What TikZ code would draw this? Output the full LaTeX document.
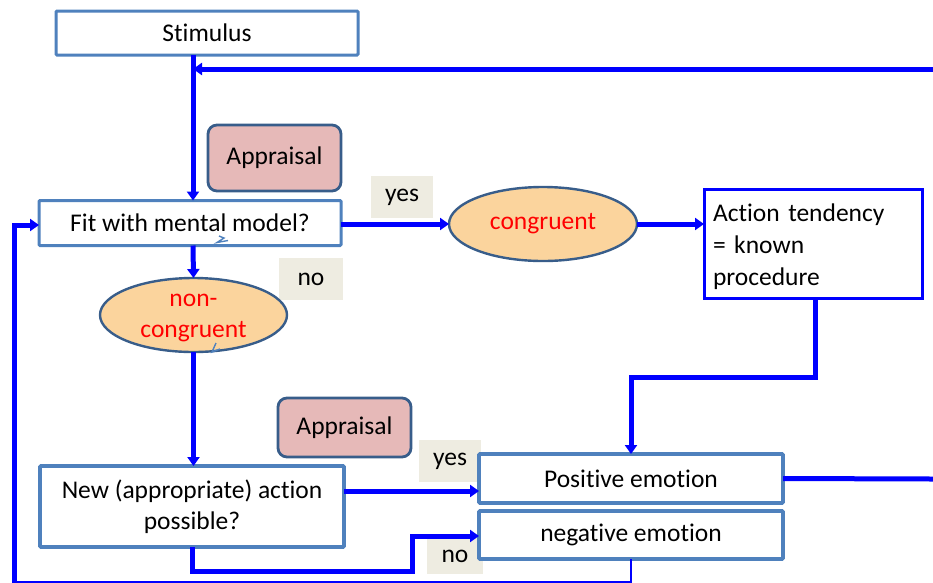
\documentclass[tikz,border=0pt]{standalone}
\usepackage{fontspec}
\setmainfont[Ligatures={NoCommon}]{Carlito}
\usetikzlibrary{arrows.meta,shapes.geometric}
\definecolor{sblue}{HTML}{4F81BD}
\definecolor{dblue}{HTML}{385D8A}
\definecolor{pinkf}{HTML}{E6B9B8}
\definecolor{orangef}{HTML}{FBD49D}
\definecolor{beige}{HTML}{EEECE1}
\definecolor{pblue}{HTML}{0000FF}
\tikzset{
  x=1pt,y=-1pt,
  every node/.style={font=\fontsize{25.5}{31}\selectfont, inner sep=0pt, outer sep=0pt},
  boxA/.style={draw=sblue, line width=3pt, fill=white, rounded corners=1pt, align=center},
  boxB/.style={draw=pblue, line width=3pt, fill=white},
  appr/.style={draw=dblue, line width=2.8pt, fill=pinkf, rounded corners=9pt},
  lab/.style={fill=beige},
  ell/.style={ellipse, draw=dblue, line width=2.4pt, fill=orangef, text=red, align=center},
  conn/.style={draw=pblue, line width=5pt},
  arr/.style={conn, -{Triangle[length=9pt,width=12pt]}},
  scrib/.style={draw=sblue, line width=1.4pt}
}
\begin{document}
\begin{tikzpicture}
\useasboundingbox (0,0) rectangle (933,582);
% labels behind
\node[lab, minimum width=62pt, minimum height=42pt] (yes1) at (402,197) {yes};
\node[lab, minimum width=64pt, minimum height=42pt] (no1) at (311,279) {no};
\node[lab, minimum width=62pt, minimum height=42pt] (yes2) at (450,461) {yes};
\node[lab, minimum width=56pt, minimum height=36pt] (no2) at (455,556) {no};
% boxes
\node[boxA, minimum width=302pt, minimum height=44pt] (stim) at (207,33) {Stimulus};
\node[appr, minimum width=133pt, minimum height=66pt] (app1) at (274.5,158) {Appraisal};
\node[boxA, minimum width=302pt, minimum height=45pt] (fit) at (190,223) {Fit with mental model?};
\node[ell, minimum width=188pt, minimum height=74pt] (cong) at (543,224) {congruent};
\node[boxB, minimum width=218pt, minimum height=109pt,
  label={[text width=200pt, align=left, yshift=-3pt, font=\fontsize{25.5}{32}\selectfont]center:Action tendency\\ = known\\ procedure}] (act) at (813,243.5) {};
\node[ell, minimum width=187pt, minimum height=74pt,
  label={[align=center, text=red, yshift=-3pt]center:non-\\congruent}] (ncong) at (193.5,315) {};
\node[appr, minimum width=133pt, minimum height=59pt] (app2) at (344.5,427.5) {Appraisal};
\node[boxA, minimum width=304pt, minimum height=81pt, line width=3.6pt] (new) at (192,506.5) {New (appropriate) action\\ possible?};
\node[boxA, minimum width=304pt, minimum height=49pt, line width=3.6pt] (pos) at (631,478.5) {Positive emotion};
\node[boxA, minimum width=304pt, minimum height=48pt, line width=3.6pt] (neg) at (631,535) {negative emotion};
% coordinates
\coordinate (topR) at (933,69);
\coordinate (topL) at (193,69);
\coordinate (posR) at (933,479);
\coordinate (botM) at (631,582);
\coordinate (botL) at (14,582);
\coordinate (leftU) at (14,225);
% connectors
\draw[arr] (stim.south -| 193,0) -- (fit.north -| 193,0);
\draw[arr] (topR) -- (topL);
\draw[arr] (fit.east |- cong.west) -- (cong.west);
\draw[arr] (cong.east) -- (act.west |- cong.east);
\draw[arr] (fit.south -| 193,0) -- (ncong.north);
\draw[arr] (ncong.south) -- (new.north -| ncong.south);
\draw[arr] (act.south -| 815,0) -- (815,377) -- (631,377) -- (pos.north);
\draw[conn] (pos.east) -- (posR);
\draw[arr] (new.east |- 0,491) -- (pos.west |- 0,491);
\draw[arr] (new.south -| 192,0) -- (192,571) -- (412,571) -- (412,536) -- (neg.west |- 0,536);
\draw[conn, line width=2.4pt] (neg.south) -- (botM) -- (botL);
\draw[arr, line cap=rect] (botL) -- (leftU) -- (fit.west |- leftU);
% small scribbles
\draw[scrib] (219,236) -- (224,238) -- (217,242.5) -- (228,240.5);
\draw[scrib] (216,343) -- (212,352) -- (220,349);
\end{tikzpicture}
\end{document}
